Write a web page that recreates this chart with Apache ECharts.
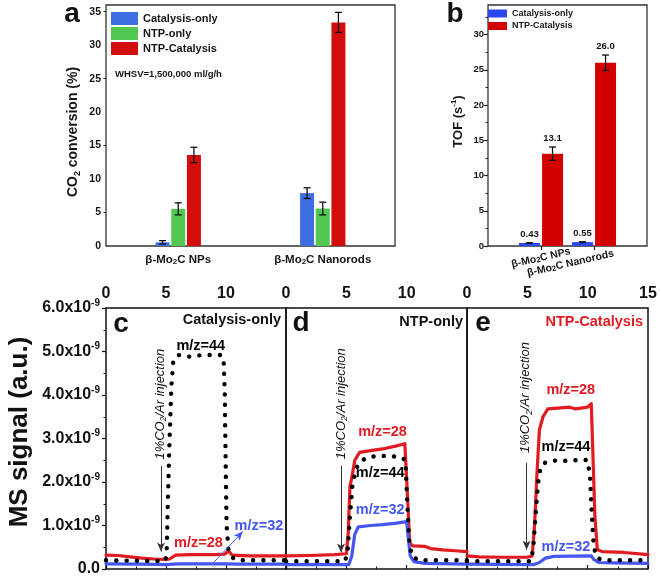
<!DOCTYPE html>
<html><head><meta charset="utf-8">
<script src="https://cdn.jsdelivr.net/npm/echarts@6/dist/echarts.min.js"></script>
<style>html,body{margin:0;padding:0;background:#fff}#c{width:661px;height:580px}</style>
</head><body><div id="c"></div>
<script>
const FONT = "'Liberation Sans', Arial, Helvetica, sans-serif";

// ---------- Panel a: CO2 conversion (%) ----------
const aCategories = ['β-Mo2C NPs', 'β-Mo2C Nanorods'];
const aCatalysisOnly = [0.55, 7.9];
const aCatalysisOnlyErr = [0.25, 0.8];
const aNTPOnly = [5.55, 5.6];
const aNTPOnlyErr = [0.9, 0.95];
const aNTPCatalysis = [13.6, 33.4];
const aNTPCatalysisErr = [1.15, 1.5];
const aYTicks = [0, 5, 10, 15, 20, 25, 30, 35];

// ---------- Panel b: TOF (s-1) ----------
const bPositions = [1, 2];
const bCategories = ['β-Mo2C NPs', 'β-Mo2C Nanorods'];
const bCatalysisOnly = [0.43, 0.55];
const bCatalysisOnlyErr = [0.03, 0.05];
const bNTPCatalysis = [13.1, 26.0];
const bNTPCatalysisErr = [0.95, 1.1];
const bYTicks = [0, 5, 10, 15, 20, 25, 30];

// ---------- Panels c-e: MS signal (x1e-9) vs time ----------
const c28 = [[0,0.32],[1,0.31],[2,0.28],[3,0.25],[4,0.23],[5,0.22],[5.3,0.23],[5.8,0.32],[7,0.33],[8,0.33],[9,0.33],[9.9,0.34],[10.2,0.42],[10.5,0.32],[12,0.3],[13.5,0.3],[15,0.3]];
const c32 = [[0,0.12],[3,0.11],[5,0.1],[6,0.12],[10,0.12],[11,0.11],[15,0.11]];
const c44 = [[0,0.2],[4.9,0.18],[5.05,0.3],[5.15,1.5],[5.3,3.0],[5.45,4.2],[5.6,4.75],[6,4.92],[7,4.88],[8,4.92],[9.5,4.92],[9.8,4.85],[9.9,4.0],[9.97,2.5],[10.05,1.0],[10.2,0.45],[10.6,0.25],[11,0.2],[15,0.2]];

const d28 = [[0,0.3],[2,0.31],[4,0.33],[5.0,0.35],[5.15,0.8],[5.3,1.9],[5.45,2.1],[5.7,2.5],[6.1,2.68],[7,2.72],[8,2.76],[9,2.82],[9.85,2.88],[10.0,2.9],[10.1,1.5],[10.25,0.6],[10.5,0.53],[11.5,0.52],[12,0.47],[13,0.44],[14,0.42],[15,0.4]];
const d32 = [[0,0.1],[5.2,0.1],[5.45,0.3],[5.7,0.8],[6.0,0.97],[7,1.0],[8,1.02],[9,1.05],[10,1.09],[10.1,0.8],[10.3,0.3],[10.6,0.17],[11.5,0.13],[15,0.11]];
const d44 = [[0,0.18],[4.9,0.18],[5.1,0.4],[5.3,1.2],[5.5,1.9],[5.8,2.3],[6.1,2.45],[6.6,2.55],[7.5,2.6],[8.5,2.6],[9.5,2.57],[9.9,2.5],[10.05,1.5],[10.2,0.7],[10.4,0.3],[11,0.2],[15,0.2]];

const e28 = [[0,0.3],[1,0.28],[3,0.27],[5,0.27],[5.4,0.3],[5.6,1.0],[5.8,2.2],[6.0,3.2],[6.3,3.5],[6.7,3.68],[7.5,3.7],[8.5,3.72],[9,3.68],[10,3.72],[10.3,3.8],[10.45,2.5],[10.6,1.2],[10.8,0.45],[11.2,0.4],[13,0.38],[15,0.33]];
const e32 = [[0,0.11],[5.5,0.1],[6.0,0.15],[6.5,0.25],[7.2,0.29],[10.3,0.3],[10.5,0.22],[10.9,0.15],[12,0.14],[15,0.13]];
const e44 = [[0,0.18],[5.3,0.18],[5.5,0.5],[5.7,1.3],[5.9,2.0],[6.1,2.35],[6.5,2.45],[7.5,2.5],[8.5,2.48],[9.5,2.52],[10.0,2.5],[10.2,2.1],[10.35,1.2],[10.5,0.5],[10.8,0.25],[11.3,0.2],[15,0.2]];

const timeTicksMax = 15;
const msTicksMax = 6;

// ---------- styles ----------
const A_BLUE = '#3d6fe2', A_GREEN = '#52c852', A_RED = '#d40d0d';
const B_BLUE = '#2b47f0', B_RED = '#d30000';
const L_RED = '#e01b22', L_BLUE = '#4557f0', L_BLACK = '#000';
const INK = '#151515';
const FRAME = '#333';

function errSeries(xi, yi, xs, vals, errs, offset, labels) {
  return {
    type: 'custom', xAxisIndex: xi, yAxisIndex: yi, z: 5, silent: true,
    data: xs.map((x, i) => [x, vals[i] - errs[i], vals[i] + errs[i], i]),
    renderItem(params, api) {
      const lo = api.coord([api.value(0), api.value(1)]);
      const hi = api.coord([api.value(0), api.value(2)]);
      const x = lo[0] + offset, cw = 3.5;
      const st = { stroke: '#111', lineWidth: 1.3 };
      const children = [
        { type: 'line', shape: { x1: x, y1: lo[1], x2: x, y2: hi[1] }, style: st },
        { type: 'line', shape: { x1: x - cw, y1: lo[1], x2: x + cw, y2: lo[1] }, style: st },
        { type: 'line', shape: { x1: x - cw, y1: hi[1], x2: x + cw, y2: hi[1] }, style: st }
      ];
      if (labels) {
        children.push({ type: 'text', x: x, y: hi[1] - 3.5,
          style: { text: labels[api.value(3)], align: 'center', verticalAlign: 'bottom',
                   fontSize: 9.5, fontWeight: 'bold', fontFamily: FONT, fill: INK } });
      }
      return { type: 'group', children };
    }
  };
}

const subRich = { s: { fontSize: 8, fontWeight: 'bold', verticalAlign: 'bottom', lineHeight: 8, fontFamily: FONT, color: INK } };
function moLabel(v) { return String(v).replace('Mo2C', 'Mo{s|2}C'); }

const gridBase = { show: true, borderColor: FRAME, borderWidth: 1.3, backgroundColor: 'transparent' };

const aStep = 14 * 1.12;
const bStep = 21 * 1.1;

function timeX(gridIndex, showMax) {
  return {
    type: 'value', gridIndex, position: 'top', min: 0, max: timeTicksMax, interval: 5,
    axisLine: { show: false }, splitLine: { show: false },
    axisTick: { show: true, inside: false, length: 4, lineStyle: { color: '#111', width: 1.2 } },
    minorTick: { show: true, splitNumber: 2, length: 2.5, lineStyle: { color: '#111', width: 1 } },
    axisLabel: { showMaxLabel: showMax, margin: 6, fontSize: 16, fontWeight: 'bold', color: '#111', fontFamily: FONT }
  };
}

function lineS(gi, data, color, width, name) {
  return { type: 'line', name, xAxisIndex: gi, yAxisIndex: gi, data, showSymbol: false, symbol: 'none',
    silent: true, lineStyle: { color, width, cap: 'round', join: 'round' }, z: 2 };
}
function dotS(gi, data, name) {
  return { type: 'line', name, xAxisIndex: gi, yAxisIndex: gi, data, showSymbol: false, symbol: 'none',
    silent: true, lineStyle: { color: L_BLACK, width: 4.4, type: [0.1, 10.2], cap: 'round', join: 'round' }, z: 4 };
}
function arrowLine(from, to, color) {
  return { silent: true, symbol: ['none', 'arrow'], symbolSize: [6, 9], label: { show: false },
    lineStyle: { color, width: 1, type: 'solid' }, emphasis: { disabled: true },
    data: [[{ coord: from }, { coord: to }]] };
}

const option = {
  animation: false,
  textStyle: { fontFamily: FONT },
  grid: [
    Object.assign({ left: 106, top: 5, width: 289, height: 241 }, gridBase),
    Object.assign({ left: 488, top: 5, width: 159, height: 241 }, gridBase),
    Object.assign({ left: 106, top: 308, width: 180, height: 261 }, gridBase, { borderColor: '#111', borderWidth: 1.5 }),
    Object.assign({ left: 286, top: 308, width: 181, height: 261 }, gridBase, { borderColor: '#111', borderWidth: 1.5 }),
    Object.assign({ left: 467, top: 308, width: 181, height: 261 }, gridBase, { borderColor: '#111', borderWidth: 1.5 })
  ],
  legend: [
    { orient: 'vertical', left: 111, top: 12, padding: 0, itemWidth: 27, itemHeight: 13, itemGap: 2,
      icon: 'rect', selectedMode: false, data: ['Catalysis-only', 'NTP-only', 'NTP-Catalysis'],
      textStyle: { fontSize: 11, fontWeight: 'bold', color: INK, fontFamily: FONT } },
    { orient: 'vertical', left: 488, top: 9, padding: 0, itemWidth: 19, itemHeight: 8, itemGap: 3.5,
      icon: 'rect', selectedMode: false, data: ['Catalysis-only ', 'NTP-Catalysis '],
      formatter: n => n.trim(),
      textStyle: { fontSize: 9, fontWeight: 'bold', color: INK, fontFamily: FONT } }
  ],
  xAxis: [
    { type: 'category', gridIndex: 0, data: aCategories,
      axisLine: { show: false },
      axisTick: { alignWithLabel: true, length: 4, lineStyle: { color: '#222', width: 1.2 } },
      axisLabel: { interval: 0, margin: 8, fontSize: 11.5, fontWeight: 'bold', color: INK, fontFamily: FONT,
                   formatter: moLabel, rich: Object.assign({}, subRich) } },
    { type: 'value', gridIndex: 1, min: 0, max: 3, splitLine: { show: false }, axisLine: { show: false },
      axisTick: { customValues: bPositions, length: 4, lineStyle: { color: '#222', width: 1.2 } },
      axisLabel: { customValues: bPositions, rotate: 13, align: 'center', verticalAlign: 'middle', margin: 12,
        hideOverlap: false,
        fontSize: 10.5, fontWeight: 'bold', color: INK, fontFamily: FONT,
        formatter: v => { const i = bPositions.indexOf(v); if (i < 0) return '';
          const t = moLabel(bCategories[i]); return i === 1 ? t + '{pad| }' : t; },
        rich: Object.assign({ pad: { width: 48 } }, { s: Object.assign({}, subRich.s, { fontSize: 7.5 }) }) } },
    timeX(2, false), timeX(3, false), timeX(4, true)
  ],
  yAxis: [
    { type: 'value', gridIndex: 0, min: 0, max: 36, splitLine: { show: false }, axisLine: { show: false },
      axisTick: { customValues: aYTicks, length: 4, lineStyle: { color: '#222', width: 1.2 } },
      minorTick: { show: true, splitNumber: 2, length: 2.5, lineStyle: { color: '#222' } },
      axisLabel: { customValues: aYTicks, margin: 5, fontSize: 10.5, fontWeight: 'bold', color: INK, fontFamily: FONT },
      name: 'CO{sub|2} conversion (%)', nameLocation: 'middle', nameGap: 24,
      nameTextStyle: { fontSize: 14, fontWeight: 'bold', color: INK, lineHeight: 18, fontFamily: FONT, padding: [0, 13, 0, 0],
        rich: { sub: { fontSize: 9, fontWeight: 'bold', verticalAlign: 'bottom', lineHeight: 9, color: INK } } } },
    { type: 'value', gridIndex: 1, min: 0, max: 34.2, splitLine: { show: false }, axisLine: { show: false },
      axisTick: { customValues: bYTicks, length: 4, lineStyle: { color: '#222', width: 1.2 } },
      minorTick: { show: true, splitNumber: 2, length: 2.5, lineStyle: { color: '#222' } },
      axisLabel: { customValues: bYTicks, margin: 4, fontSize: 9.5, fontWeight: 'bold', color: INK, fontFamily: FONT },
      name: 'TOF (s{sup|-1})', nameLocation: 'middle', nameGap: 22,
      nameTextStyle: { fontSize: 13, fontWeight: 'bold', color: INK, lineHeight: 16, fontFamily: FONT, padding: [0, 0, 0, 8],
        rich: { sup: { fontSize: 8, fontWeight: 'bold', verticalAlign: 'top', lineHeight: 8, color: INK } } } },
    { type: 'value', gridIndex: 2, min: 0, max: msTicksMax, interval: 1, splitLine: { show: false }, axisLine: { show: false },
      axisTick: { length: 4, lineStyle: { color: '#111', width: 1.2 } },
      minorTick: { show: true, splitNumber: 2, length: 2.5, lineStyle: { color: '#111' } },
      axisLabel: { margin: 6, fontSize: 16, fontWeight: 'bold', color: '#111', fontFamily: FONT, lineHeight: 20,
        formatter: v => v === 0 ? '0.0' : v.toFixed(1) + 'x10{sup|-9}',
        rich: { sup: { fontSize: 10, fontWeight: 'bold', verticalAlign: 'top', lineHeight: 10, color: '#111' } } },
      name: 'MS signal (a.u.)', nameLocation: 'middle', nameGap: 71,
      nameTextStyle: { fontSize: 26, fontWeight: 'bold', color: '#111', lineHeight: 30, fontFamily: FONT, padding: [0, 0, 0, 13] } },
    { type: 'value', gridIndex: 3, min: 0, max: msTicksMax, show: false },
    { type: 'value', gridIndex: 4, min: 0, max: msTicksMax, show: false }
  ],
  series: [
    { type: 'bar', name: 'Catalysis-only', xAxisIndex: 0, yAxisIndex: 0, data: aCatalysisOnly, barWidth: 14, barGap: '12%', itemStyle: { color: A_BLUE } },
    { type: 'bar', name: 'NTP-only', xAxisIndex: 0, yAxisIndex: 0, data: aNTPOnly, barWidth: 14, barGap: '12%', itemStyle: { color: A_GREEN } },
    { type: 'bar', name: 'NTP-Catalysis', xAxisIndex: 0, yAxisIndex: 0, data: aNTPCatalysis, barWidth: 14, barGap: '12%', itemStyle: { color: A_RED } },
    errSeries(0, 0, [0, 1], aCatalysisOnly, aCatalysisOnlyErr, -aStep),
    errSeries(0, 0, [0, 1], aNTPOnly, aNTPOnlyErr, 0),
    errSeries(0, 0, [0, 1], aNTPCatalysis, aNTPCatalysisErr, aStep),

    { type: 'bar', name: 'Catalysis-only ', xAxisIndex: 1, yAxisIndex: 1, data: bPositions.map((x, i) => [x, bCatalysisOnly[i]]), barWidth: 21, barGap: '10%', itemStyle: { color: B_BLUE } },
    { type: 'bar', name: 'NTP-Catalysis ', xAxisIndex: 1, yAxisIndex: 1, data: bPositions.map((x, i) => [x, bNTPCatalysis[i]]), barWidth: 21, barGap: '10%', itemStyle: { color: B_RED } },
    errSeries(1, 1, bPositions, bCatalysisOnly, bCatalysisOnlyErr, -bStep / 2, bCatalysisOnly.map(v => v.toFixed(2))),
    errSeries(1, 1, bPositions, bNTPCatalysis, bNTPCatalysisErr, bStep / 2, bNTPCatalysis.map(v => v.toFixed(1))),

    Object.assign(lineS(2, c28, L_RED, 3.2, 'c m/z=28'), { markLine: arrowLine([4.58, 2.37], [4.58, 0.4], '#333') }),
    Object.assign(lineS(2, c32, L_BLUE, 3.2, 'c m/z=32'), { markLine: arrowLine([9.0, 0.16], [11.4, 0.86], L_BLUE) }),
    dotS(2, c44, 'c m/z=44'),
    Object.assign(lineS(3, d28, L_RED, 3.2, 'd m/z=28'), { markLine: arrowLine([4.56, 2.37], [4.56, 0.38], '#333') }),
    lineS(3, d32, L_BLUE, 3.2, 'd m/z=32'),
    dotS(3, d44, 'd m/z=44'),
    Object.assign(lineS(4, e28, L_RED, 3.2, 'e m/z=28'), { markLine: arrowLine([4.94, 2.44], [4.94, 0.44], '#333') }),
    lineS(4, e32, L_BLUE, 3.2, 'e m/z=32'),
    dotS(4, e44, 'e m/z=44')
  ]
};

const chart = echarts.init(document.getElementById('c'), null, { renderer: 'canvas' });
chart.setOption(option);

// ---------- text annotations (placed through the axes) ----------
const mzNotes = [
  { g: 2, at: [7.9, 5.13], text: 'm/z=44', color: L_BLACK },
  { g: 2, at: [7.7, 0.6], text: 'm/z=28', color: L_RED },
  { g: 2, at: [12.75, 1.0], text: 'm/z=32', color: L_BLUE },
  { g: 3, at: [8.0, 3.16], text: 'm/z=28', color: L_RED },
  { g: 3, at: [7.8, 2.21], text: 'm/z=44', color: L_BLACK },
  { g: 3, at: [7.8, 1.36], text: 'm/z=32', color: L_BLUE },
  { g: 4, at: [8.6, 4.11], text: 'm/z=28', color: L_RED },
  { g: 4, at: [8.2, 2.81], text: 'm/z=44', color: L_BLACK },
  { g: 4, at: [8.2, 0.51], text: 'm/z=32', color: L_BLUE }
];
const injectNotes = [
  { g: 2, at: [4.5, 3.79] },
  { g: 3, at: [4.6, 3.8] },
  { g: 4, at: [4.86, 3.94] }
];
const els = [];
mzNotes.forEach(n => {
  const p = chart.convertToPixel({ gridIndex: n.g }, n.at);
  els.push({ type: 'text', x: p[0], y: p[1], silent: true,
    style: { text: n.text, align: 'center', verticalAlign: 'middle', fontSize: 14.5, fontWeight: 'bold', fontFamily: FONT, fill: n.color } });
});
injectNotes.forEach(n => {
  const p = chart.convertToPixel({ gridIndex: n.g }, n.at);
  els.push({ type: 'text', x: p[0], y: p[1], rotation: Math.PI / 2, silent: true,
    style: { text: '1%CO{s|2}/Ar injection', align: 'center', verticalAlign: 'middle', fontSize: 13, fontStyle: 'italic',
      fontFamily: FONT, fill: '#111', lineHeight: 16,
      rich: { s: { fontSize: 8.5, fontStyle: 'italic', verticalAlign: 'bottom', lineHeight: 8, fill: '#111', fontFamily: FONT } } } });
});
// panel letters and titles
const bigLetter = (t, x, y) => ({ type: 'text', x, y, silent: true,
  style: { text: t, align: 'center', verticalAlign: 'middle', fontSize: 28, fontWeight: 'bold', fontFamily: FONT, fill: '#111' } });
els.push(bigLetter('a', 72, 14));
els.push(bigLetter('b', 455, 14));
els.push(bigLetter('c', 121, 324));
els.push(bigLetter('d', 301, 323));
els.push(bigLetter('e', 483, 323));
els.push({ type: 'text', x: 115, y: 74, silent: true,
  style: { text: 'WHSV=1,500,000 ml/g/h', align: 'left', verticalAlign: 'middle', fontSize: 9.5, fontWeight: 'bold', fontFamily: FONT, fill: INK } });
const panelTitle = (t, xr, y, color) => ({ type: 'text', x: xr, y, silent: true,
  style: { text: t, align: 'right', verticalAlign: 'middle', fontSize: 14.5, fontWeight: 'bold', fontFamily: FONT, fill: color } });
els.push(panelTitle('Catalysis-only', 281, 320, '#111'));
els.push(panelTitle('NTP-only', 463, 322, '#111'));
els.push(panelTitle('NTP-Catalysis', 643, 322, L_RED));
chart.setOption({ graphic: { elements: els } });
</script>
</body></html>
